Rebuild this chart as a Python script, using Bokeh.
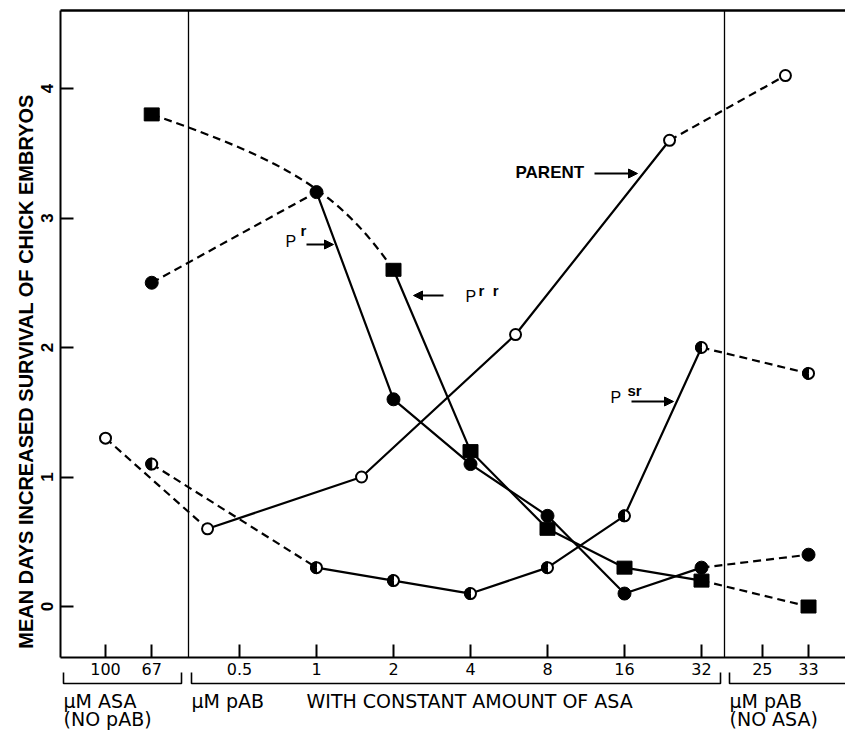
import math
from bokeh.plotting import figure
from bokeh.models import FixedTicker, Arrow, NormalHead, LinearAxis, Range1d
from bokeh.core.properties import value
from bokeh.embed import file_html
from bokeh.resources import INLINE

# ---------------- data ----------------
asa_only_conc = [100, 67]                       # µM ASA (no pAB)
pab_with_asa_conc = [0.5, 1, 2, 4, 8, 16, 32]   # µM pAB with constant ASA
pab_only_conc = [25, 33]                        # µM pAB (no ASA)

parent_asa_conc = [100]
parent_asa_val = [1.3]
parent_mix_conc = [0.375, 1.5, 6, 24]
parent_mix_val = [0.6, 1.0, 2.1, 3.6]
parent_pab_conc = [29]
parent_pab_val = [4.1]

psr_asa_conc = [67]
psr_asa_val = [1.1]
psr_mix_conc = [1, 2, 4, 8, 16, 32]
psr_mix_val = [0.3, 0.2, 0.1, 0.3, 0.7, 2.0]
psr_pab_conc = [33]
psr_pab_val = [1.8]

pr_asa_conc = [67]
pr_asa_val = [2.5]
pr_mix_conc = [1, 2, 4, 8, 16, 32]
pr_mix_val = [3.2, 1.6, 1.1, 0.7, 0.1, 0.3]
pr_pab_conc = [33]
pr_pab_val = [0.4]

prr_asa_conc = [67]
prr_asa_val = [3.8]
prr_mix_conc = [2, 4, 8, 16, 32]
prr_mix_val = [2.6, 1.2, 0.6, 0.3, 0.2]
prr_pab_conc = [33]
prr_pab_val = [0.0]

y_ticks = [0, 1, 2, 3, 4]
y_title = "MEAN DAYS INCREASED SURVIVAL OF CHICK EMBRYOS"

# ---------------- layout ----------------
W, H = 845, 733

def hx(px):          # page pixel -> x data (layout helpers only)
    return (px - 239) / 77.0

def vy(py):          # page pixel -> y data (layout helpers only)
    return (606 - py) / 129.5

def pos_asa(c):
    return -1.74 + (100 - c) * 0.6 / 33

def pos_mix(c):
    return math.log2(c / 0.5)

def pos_pab(c):
    return 6.79 + (c - 25) * 0.6 / 8

X0, X1 = hx(0), hx(W)
Y0, Y1 = vy(H), vy(0)
AX_X = hx(60)        # where the y axis stands
AX_Y = vy(657)       # where the x axis lies
TOP_Y = vy(10)
SEPARATORS = [hx(188), hx(724)]

def fmt(c):
    return str(int(c)) if float(c).is_integer() else str(c)

tick_pos = ([pos_asa(c) for c in asa_only_conc] + [pos_mix(c) for c in pab_with_asa_conc]
            + [pos_pab(c) for c in pab_only_conc])
tick_lab = [fmt(c) for c in asa_only_conc + pab_with_asa_conc + pab_only_conc]

p = figure(width=W, height=H, x_range=Range1d(X0, X1), y_range=Range1d(Y0, Y1),
           x_axis_location=None, y_axis_location=None,
           output_backend="svg", toolbar_location=None, min_border=0)
p.outline_line_color = None
p.grid.visible = False
p.background_fill_color = "white"
p.border_fill_color = "white"

xax = LinearAxis(fixed_location=AX_Y, bounds=(AX_X, X1), ticker=FixedTicker(ticks=tick_pos))
xax.major_label_overrides = {t: l for t, l in zip(tick_pos, tick_lab)}
xax.minor_tick_line_color = None
xax.major_tick_in = 13
xax.major_tick_out = 0
xax.major_tick_line_width = 2
xax.axis_line_width = 2
xax.major_label_standoff = 5
xax.major_label_text_font = "DejaVu Sans"
xax.major_label_text_font_size = "16px"
xax.major_label_text_color = "black"
p.add_layout(xax, "below")

yax = LinearAxis(fixed_location=AX_X, bounds=(AX_Y, TOP_Y), ticker=FixedTicker(ticks=y_ticks))
yax.minor_tick_line_color = None
yax.major_tick_in = 13
yax.major_tick_out = 0
yax.major_tick_line_width = 2
yax.axis_line_width = 2
yax.major_label_orientation = "vertical"
yax.major_label_standoff = 8
yax.major_label_text_font = "Liberation Sans"
yax.major_label_text_font_style = "bold"
yax.major_label_text_font_size = "17px"
yax.major_label_text_color = "black"
p.add_layout(yax, "left")

# frame top line and group separators
p.segment(x0=[AX_X], y0=[TOP_Y], x1=[X1], y1=[TOP_Y], line_color="black", line_width=2.5)
p.segment(x0=SEPARATORS, y0=[AX_Y] * 2, x1=SEPARATORS, y1=[TOP_Y] * 2,
          line_color="black", line_width=1.3)

DASH = "8 5"
LW = 2.2

def series(asa_c, asa_v, mix_c, mix_v, pab_c, pab_v, curved_left=False):
    ax_ = [pos_asa(c) for c in asa_c]
    mx_ = [pos_mix(c) for c in mix_c]
    px_ = [pos_pab(c) for c in pab_c]
    p.line(mx_, mix_v, line_color="black", line_width=LW)
    if curved_left:
        # the hand-drawn link bends round near x = 1
        bx, by = hx(326), vy(174)
        x0, y0, x1, y1 = ax_[-1], asa_v[-1], mx_[0], mix_v[0]
        f = 0.8
        p.bezier(x0=[x0], y0=[y0], x1=[x1], y1=[y1],
                 cx0=[x0 + f * (bx - x0)], cy0=[y0 + f * (by - y0)],
                 cx1=[x1 + f * (bx - x1)], cy1=[y1 + f * (by - y1)],
                 line_color="black", line_width=LW, line_dash=DASH)
    else:
        p.line([ax_[-1], mx_[0]], [asa_v[-1], mix_v[0]], line_color="black",
               line_width=LW, line_dash=DASH)
    p.line([mx_[-1], px_[0]], [mix_v[-1], pab_v[0]], line_color="black",
           line_width=LW, line_dash=DASH)
    return ax_ + mx_ + px_, asa_v + mix_v + pab_v

# PARENT (open circles)
xs, ys = series(parent_asa_conc, parent_asa_val, parent_mix_conc, parent_mix_val,
                parent_pab_conc, parent_pab_val)
p.scatter(xs, ys, marker="circle", size=11, fill_color="white", line_color="black", line_width=2)

# Psr (half-filled circles)
xs, ys = series(psr_asa_conc, psr_asa_val, psr_mix_conc, psr_mix_val,
                psr_pab_conc, psr_pab_val)
p.scatter(xs, ys, marker="circle", size=11, fill_color="white", line_color="black", line_width=2)
p.wedge(xs, ys, radius=6, radius_units="screen", start_angle=math.pi / 2,
        end_angle=3 * math.pi / 2, fill_color="black", line_color="black")

# Pr (filled circles)
xs, ys = series(pr_asa_conc, pr_asa_val, pr_mix_conc, pr_mix_val,
                pr_pab_conc, pr_pab_val)
p.scatter(xs, ys, marker="circle", size=13, fill_color="black", line_color="black")

# Prr (filled squares)
xs, ys = series(prr_asa_conc, prr_asa_val, prr_mix_conc, prr_mix_val,
                prr_pab_conc, prr_pab_val, curved_left=True)
p.rect(xs, ys, width=15, height=13, width_units="screen", height_units="screen",
       fill_color="black", line_color="black")

# ---------------- texts ----------------
def txt(px, py, s, size, bold=False, font="Liberation Sans", angle=0.0, align="left"):
    p.text([hx(px)], [vy(py)], text=[s], text_font=value(font),
           text_font_size=size, text_font_style="bold" if bold else "normal",
           text_align=align, text_baseline="middle", text_color="black", angle=angle)

def arrow(pxa, pya, pxb, pyb):
    p.add_layout(Arrow(end=NormalHead(size=9, fill_color="black", line_color="black"),
                       x_start=hx(pxa), y_start=vy(pya), x_end=hx(pxb), y_end=vy(pyb),
                       line_color="black", line_width=2))

txt(515, 172, "PARENT", "17px", bold=True)
arrow(594, 173, 637, 173)

txt(285, 241, "P", "16px")
txt(300, 230, "r", "15px", bold=True)
arrow(306, 244, 333, 244)

txt(465, 296, "P", "16px")
txt(478, 290, "r\u00a0\u00a0r", "15px", bold=True)
arrow(443, 295, 413, 295)

txt(610, 397, "P", "16px")
txt(627, 390, "sr", "15px", bold=True)
arrow(631, 401, 673, 401)

# y axis title
txt(25, 371, y_title, "20px", bold=True, angle=math.pi / 2, align="center")

# group brackets below the axis
b_top, b_bot = vy(672), vy(683)
brackets = [(hx(63), hx(181)), (hx(191), hx(720)), (hx(729), X1 + 0.5)]
p.multi_line(xs=[[l, l, r, r] for l, r in brackets],
             ys=[[b_top, b_bot, b_bot, b_top] for _ in brackets],
             line_color="black", line_width=1.6)

# group titles
GF = "19px"
ROW1, ROW2 = 700, 718
txt(63, ROW1, "\u00b5M ASA", GF, font="DejaVu Sans")
txt(63, ROW2, "(NO pAB)", GF, font="DejaVu Sans")
txt(191, ROW1, "\u00b5M pAB", GF, font="DejaVu Sans")
txt(306, ROW1, "WITH CONSTANT AMOUNT OF ASA", GF, font="DejaVu Sans")
txt(729, ROW1, "\u00b5M pAB", GF, font="DejaVu Sans")
txt(729, ROW2, "(NO ASA)", GF, font="DejaVu Sans")

open("out.html", "w").write(file_html(p, INLINE))
